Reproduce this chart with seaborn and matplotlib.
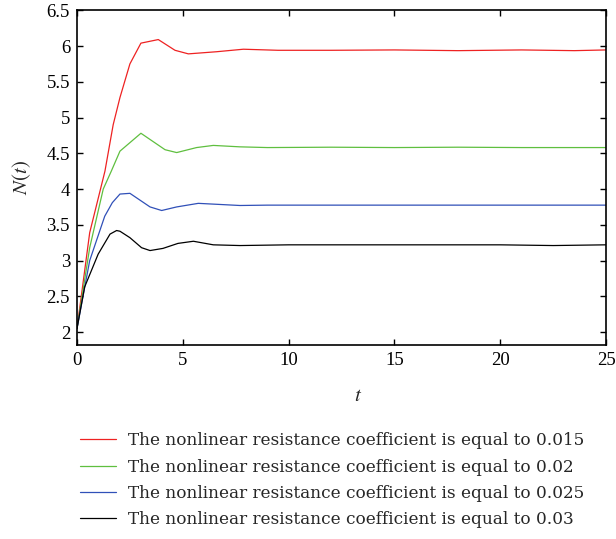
import numpy as np
import pandas as pd
import matplotlib
matplotlib.use("Agg")
import matplotlib.pyplot as plt
import seaborn as sns

labels = [
    "The nonlinear resistance coefficient is equal to 0.015",
    "The nonlinear resistance coefficient is equal to 0.02",
    "The nonlinear resistance coefficient is equal to 0.025",
    "The nonlinear resistance coefficient is equal to 0.03",
]
colors = ["#ee2222", "#5fbf3f", "#3050b8", "#000000"]

t_red = [0, 0.6, 1.32, 1.71, 2.03, 2.5, 3.02, 3.84, 4.63, 5.26, 6.6, 7.86, 9.5, 12, 15, 18, 21, 23.5, 25]
n_red = [2.05, 3.39, 4.25, 4.90, 5.28, 5.75, 6.04, 6.09, 5.94, 5.89, 5.92, 5.955, 5.94, 5.94, 5.945, 5.935, 5.945, 5.935, 5.945]

t_green = [0, 0.6, 1.24, 1.62, 2.03, 3.02, 4.16, 4.71, 5.65, 6.44, 7.7, 9, 12, 15, 18, 21, 25]
n_green = [2.05, 3.18, 4.0, 4.25, 4.53, 4.78, 4.55, 4.51, 4.58, 4.61, 4.59, 4.58, 4.585, 4.58, 4.585, 4.58, 4.58]

t_blue = [0, 0.6, 1.31, 1.67, 2.03, 2.5, 3.45, 4.0, 4.71, 5.73, 7.7, 9, 12, 15, 18, 21, 25]
n_blue = [2.05, 3.0, 3.62, 3.81, 3.93, 3.94, 3.75, 3.70, 3.75, 3.80, 3.77, 3.775, 3.775, 3.775, 3.775, 3.775, 3.775]

t_black = [0, 0.36, 1.0, 1.56, 1.87, 2.03, 2.5, 3.05, 3.45, 4.06, 4.77, 5.5, 6.44, 7.7, 10, 15, 20, 22.5, 25]
n_black = [2.05, 2.63, 3.09, 3.37, 3.42, 3.41, 3.32, 3.18, 3.14, 3.17, 3.24, 3.27, 3.22, 3.21, 3.22, 3.22, 3.22, 3.21, 3.22]

x_ticks = [0, 5, 10, 15, 20, 25]
y_ticks = [2, 2.5, 3, 3.5, 4, 4.5, 5, 5.5, 6, 6.5]
y_ticklabels = ["2", "2.5", "3", "3.5", "4", "4.5", "5", "5.5", "6", "6.5"]

frames = []
for lab, tt, nn in zip(labels, [t_red, t_green, t_blue, t_black], [n_red, n_green, n_blue, n_black]):
    frames.append(pd.DataFrame({"t": tt, "N": nn, "series": lab}))
df = pd.concat(frames, ignore_index=True)

sns.set_theme(style="ticks")
plt.rcParams["font.family"] = ["Liberation Serif", "DejaVu Serif"]
plt.rcParams["mathtext.fontset"] = "stix"

fig = plt.figure(figsize=(6.16, 5.39), dpi=100)
ax = fig.add_axes([0.125, 0.360, 0.859, 0.621])

sns.lineplot(data=df, x="t", y="N", hue="series", hue_order=labels,
             palette=dict(zip(labels, colors)), estimator=None, sort=False,
             linewidth=0.9, ax=ax, legend=True)

ax.set_xlim(0, 25)
ax.set_ylim(1.82, 6.5)
ax.set_xticks(x_ticks)
ax.set_xticklabels([str(v) for v in x_ticks])
ax.set_yticks(y_ticks)
ax.set_yticklabels(y_ticklabels)
ax.tick_params(direction="in", length=4, width=1, top=True, right=True,
               labelsize=13.5, colors="black", pad=5)
for sp in ax.spines.values():
    sp.set_linewidth(1.2)
    sp.set_color("black")
ax.set_xlabel(r"$t$", fontsize=15)
ax.xaxis.set_label_coords(0.532, -0.125)
ax.set_ylabel(r"$N(t)$", fontsize=15, labelpad=10)

handles, lbls = ax.get_legend_handles_labels()
ax.get_legend().remove()
fig.legend(handles, lbls, loc="upper left", bbox_to_anchor=(0.13, 0.198),
           frameon=False, prop={"family": "DejaVu Serif", "size": 12.2},
           handlelength=2.1, handletextpad=0.72,
           labelspacing=0.55, borderpad=0, borderaxespad=0)

fig.savefig("out.png", dpi=100)
